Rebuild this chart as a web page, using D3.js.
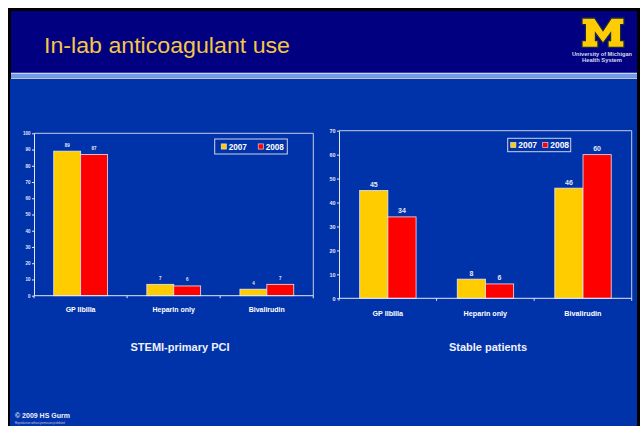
<!DOCTYPE html>
<html>
<head>
<meta charset="utf-8">
<script src="https://cdn.jsdelivr.net/npm/d3@7"></script>
<style>
  html, body { margin: 0; padding: 0; background: #fff; }
  svg { display: block; font-family: Arial, 'Liberation Sans', Helvetica, sans-serif; }
</style>
</head>
<body>
<svg width="643" height="426"></svg>
<script>
const categories = ['GP IIbIIIa', 'Heparin only', 'Bivalirudin']
const years = ['2007', '2008']
const colors = ['#ffcc00', '#ff0000']
const stemi2007 = [89, 7, 4]
const stemi2008 = [87, 6, 7]
const stable2007 = [45, 8, 46]
const stable2008 = [34, 6, 60]
const stemiTicks = [0, 10, 20, 30, 40, 50, 60, 70, 80, 90, 100]
const stableTicks = [0, 10, 20, 30, 40, 50, 60, 70]

const svg = d3.select('svg'),
  bodyBlue = '#0033aa',
  navy = '#000080',
  light = '#e4e8f4'

// slide background and frame
svg.append('rect').attr('x', 8).attr('y', 8).attr('width', 632).attr('height', 418).attr('fill', '#000')
svg.append('rect').attr('x', 11).attr('y', 11).attr('width', 626).attr('height', 62).attr('fill', navy)
svg.append('rect').attr('x', 11).attr('y', 72.7).attr('width', 626).attr('height', 1.5).attr('fill', '#c8d2ec')
svg.append('rect').attr('x', 11).attr('y', 74).attr('width', 626).attr('height', 3.7).attr('fill', '#6f9cf3')
svg.append('rect').attr('x', 11).attr('y', 77.7).attr('width', 626).attr('height', 1.2).attr('fill', '#e8eefc')
svg.append('rect').attr('x', 10).attr('y', 78.9).attr('width', 627).attr('height', 348).attr('fill', bodyBlue)

svg.append('text')
  .attr('x', 44).attr('y', 53.3)
  .attr('fill', '#f6c644')
  .attr('font-size', 22.5)
  .attr('textLength', 246).attr('lengthAdjust', 'spacingAndGlyphs')
  .text('In-lab anticoagulant use')

// block M logo
const logo = svg.append('g').attr('transform', 'translate(582,18) scale(0.42)')
logo.append('path')
  .attr('d', 'M0,0 L30,0 L50,30 L70,0 L100,0 L100,16 L92,16 L92,54 L100,54 L100,70 L62,70 L62,54 L68,54 L68,36 L50,60 L32,36 L32,54 L38,54 L38,70 L0,70 L0,54 L8,54 L8,16 L0,16 Z')
  .attr('fill', '#ffcb05').attr('stroke', '#1a2a40').attr('stroke-width', 3)
svg.append('text').attr('x', 602).attr('y', 55.5).attr('text-anchor', 'middle')
  .attr('fill', '#d8dce8').attr('font-size', 5.5).attr('font-weight', 'bold')
  .attr('textLength', 60).attr('lengthAdjust', 'spacingAndGlyphs')
  .text('University of Michigan')
svg.append('text').attr('x', 602).attr('y', 61.5).attr('text-anchor', 'middle')
  .attr('fill', '#d8dce8').attr('font-size', 5.5).attr('font-weight', 'bold')
  .attr('textLength', 40).attr('lengthAdjust', 'spacingAndGlyphs')
  .text('Health System')

function drawChart(cfg) {
  const g = svg.append('g')
  const x = d3.scaleBand().domain(categories).range([cfg.left, cfg.right]).padding(0)
  const bw = x.bandwidth()
  const x1 = d3.scaleBand().domain(years).range([bw * 0.212, bw * 0.79]).padding(0)
  const y = d3.scaleLinear().domain([0, d3.max(cfg.ticks)]).range([cfg.bottom, cfg.top])
  const series = [cfg.v2007, cfg.v2008]

  // plot frame (top and right)
  g.append('path')
    .attr('d', `M${cfg.left},${cfg.top}H${cfg.right}V${cfg.bottom}`)
    .attr('fill', 'none').attr('stroke', '#c8cce0').attr('stroke-width', 1)

  // bars
  years.forEach((yr, si) => {
    g.selectAll(null)
      .data(categories)
      .join('rect')
      .attr('x', d => x(d) + x1(yr))
      .attr('y', (d, i) => y(series[si][i]))
      .attr('width', x1.bandwidth())
      .attr('height', (d, i) => y(0) - y(series[si][i]))
      .attr('fill', colors[si])
      .attr('stroke', '#e8e8f0').attr('stroke-width', 0.8)
    g.selectAll(null)
      .data(categories)
      .join('text')
      .attr('x', d => x(d) + x1(yr) + x1.bandwidth() / 2)
      .attr('y', (d, i) => y(series[si][i]) - cfg.labelGap)
      .attr('text-anchor', 'middle')
      .attr('fill', light)
      .attr('font-size', cfg.valueFont).attr('font-weight', 'bold')
      .text((d, i) => series[si][i])
  })

  // y axis
  const ay = g.append('g')
    .attr('transform', `translate(${cfg.left},0)`)
    .call(d3.axisLeft(y).tickValues(cfg.ticks).tickSize(2).tickSizeOuter(0).tickPadding(1.5))
  ay.select('.domain').attr('stroke', light)
  ay.selectAll('.tick line').attr('stroke', light)
  ay.selectAll('.tick text').attr('fill', light).attr('font-size', cfg.tickFont)
    .attr('font-family', 'Arial, Liberation Sans, sans-serif').attr('font-weight', 'bold')

  // x axis: labels under each group, ticks at band edges
  const ax = g.append('g')
    .attr('transform', `translate(0,${cfg.bottom})`)
    .call(d3.axisBottom(x).tickSize(0).tickSizeOuter(0).tickPadding(cfg.catPad))
  ax.select('.domain').attr('stroke', light).attr('d', `M${cfg.left},0H${cfg.right}`)
  ax.selectAll('.tick text').attr('fill', '#fff').attr('font-size', cfg.catFont).attr('font-weight', 'bold')
    .attr('font-family', 'Arial, Liberation Sans, sans-serif')
  const edges = categories.map(c => x(c)).concat([x(categories[categories.length - 1]) + bw])
  g.selectAll(null).data(edges).join('line')
    .attr('x1', d => d).attr('x2', d => d)
    .attr('y1', cfg.bottom).attr('y2', cfg.bottom + 2.5)
    .attr('stroke', light).attr('stroke-width', 1)

  // legend
  const lg = g.append('g')
  lg.append('rect')
    .attr('x', cfg.legend.x).attr('y', cfg.legend.y)
    .attr('width', cfg.legend.w).attr('height', cfg.legend.h)
    .attr('fill', 'none').attr('stroke', '#d0d4e4').attr('stroke-width', 1)
  years.forEach((yr, si) => {
    const lx = cfg.legend.x + cfg.legend.items[si]
    const cy = cfg.legend.y + cfg.legend.h / 2
    lg.append('rect')
      .attr('x', lx).attr('y', cy - 2.6).attr('width', 5.2).attr('height', 5.2)
      .attr('fill', colors[si]).attr('stroke', '#e8e8f0').attr('stroke-width', 0.6)
    lg.append('text')
      .attr('x', lx + 7.5).attr('y', cy + 3)
      .attr('fill', '#fff').attr('font-size', cfg.legendFont).attr('font-weight', 'bold')
      .text(yr)
  })

  // subtitle
  svg.append('text')
    .attr('x', cfg.subX).attr('y', 350.7)
    .attr('text-anchor', 'middle')
    .attr('fill', '#f0f0f8').attr('font-size', 11).attr('font-weight', 'bold')
    .text(cfg.subtitle)
}

drawChart({
  left: 34, right: 313.3, top: 133.3, bottom: 295.7,
  v2007: stemi2007, v2008: stemi2008, ticks: stemiTicks,
  labelGap: 4.5, valueFont: 4.5, tickFont: 4.5, catFont: 7, catPad: 11,
  legend: { x: 214.7, y: 139, w: 72.6, h: 15, items: [6.5, 43.5] }, legendFont: 8.2,
  subX: 180, subtitle: 'STEMI-primary PCI'
})

drawChart({
  left: 339, right: 631.7, top: 130.7, bottom: 298.3,
  v2007: stable2007, v2008: stable2008, ticks: stableTicks,
  labelGap: 3.5, valueFont: 7, tickFont: 5.5, catFont: 7.2, catPad: 12.5,
  legend: { x: 507.7, y: 138.3, w: 63, h: 13.4, items: [3, 35] }, legendFont: 8.5,
  subX: 488, subtitle: 'Stable patients'
})

// footer
svg.append('text').attr('x', 15).attr('y', 418)
  .attr('fill', '#f0f0f8').attr('font-size', 7).attr('font-weight', 'bold')
  .text('\u00a9 2009 HS Gurm')
svg.append('text').attr('x', 15).attr('y', 424)
  .attr('fill', '#c8cce0').attr('font-size', 2.6)
  .text('Reproduction without permission prohibited')
</script>
</body>
</html>
